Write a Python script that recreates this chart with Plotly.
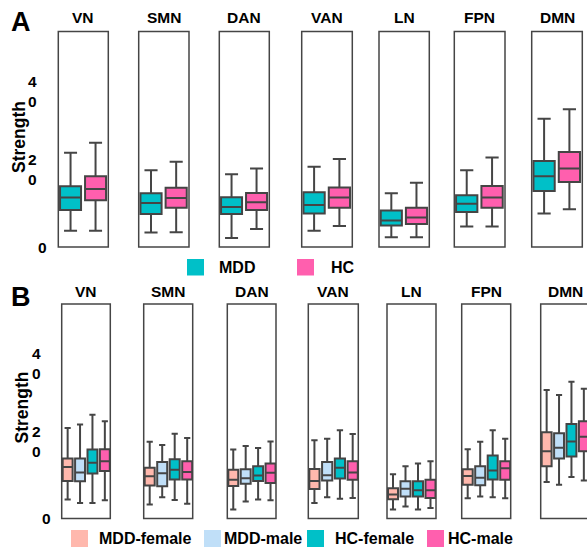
import plotly.graph_objects as go

# ---------------- data ----------------
networks = ["VN", "SMN", "DAN", "VAN", "LN", "FPN", "DMN"]

groups_a = ["MDD", "HC"]
colors_a = ["#00C0C8", "#FF5FAE"]
# per network: [upper whisker, q3, median, q1, lower whisker]
mdd_stats = [
    [24.2, 15.6, 12.7, 9.5, 4.2],
    [19.7, 13.8, 11.3, 8.5, 3.7],
    [18.7, 12.8, 10.3, 8.5, 2.3],
    [20.6, 14.1, 10.8, 8.6, 4.2],
    [13.8, 9.4, 6.8, 5.5, 2.5],
    [19.7, 13.3, 11.1, 9.0, 5.3],
    [33.0, 22.1, 18.2, 14.4, 8.6],
]
hc_stats = [
    [26.8, 18.2, 14.9, 12.0, 4.2],
    [21.9, 15.2, 12.6, 10.1, 3.8],
    [20.2, 13.9, 11.5, 9.5, 4.6],
    [22.6, 15.3, 12.7, 10.1, 5.4],
    [16.5, 10.1, 7.6, 5.9, 2.5],
    [23.0, 15.7, 12.7, 10.1, 5.3],
    [35.4, 24.4, 20.2, 16.7, 9.7],
]

groups_b = ["MDD-female", "MDD-male", "HC-female", "HC-male"]
colors_b = ["#FFB8AD", "#C0DFF8", "#00C0C8", "#FF5FAE"]
mdd_female_stats = [
    [23.4, 15.5, 13.3, 9.7, 4.9],
    [19.8, 13.1, 10.9, 8.5, 3.6],
    [17.8, 12.6, 10.0, 8.4, 2.3],
    [20.2, 12.8, 9.7, 7.6, 4.0],
    [11.4, 7.8, 6.2, 5.0, 2.3],
    [17.9, 12.7, 11.0, 8.7, 5.2],
    [33.2, 22.3, 17.4, 13.5, 9.4],
]
mdd_male_stats = [
    [24.3, 15.5, 11.9, 9.6, 4.0],
    [19.0, 14.6, 11.7, 8.3, 5.5],
    [18.7, 12.7, 10.4, 9.0, 4.4],
    [20.6, 14.6, 11.2, 9.8, 5.5],
    [13.5, 9.6, 7.7, 5.7, 3.1],
    [19.8, 13.5, 10.5, 8.6, 5.7],
    [31.9, 22.0, 18.3, 15.5, 8.7],
]
hc_female_stats = [
    [26.8, 17.8, 14.4, 11.6, 4.0],
    [21.9, 15.3, 12.6, 10.1, 4.8],
    [18.2, 13.5, 11.1, 9.7, 4.9],
    [22.8, 15.5, 13.1, 10.3, 5.1],
    [14.2, 9.6, 7.3, 5.7, 2.3],
    [22.8, 16.3, 12.4, 10.1, 5.5],
    [35.3, 24.4, 19.9, 16.0, 10.7],
]
hc_male_stats = [
    [25.1, 17.9, 14.8, 12.3, 4.7],
    [20.8, 14.8, 12.0, 10.1, 3.8],
    [19.9, 14.2, 11.8, 9.2, 4.7],
    [21.8, 14.8, 11.9, 10.0, 5.3],
    [14.8, 10.0, 7.3, 5.3, 2.7],
    [20.6, 14.8, 13.0, 10.0, 5.2],
    [33.5, 25.1, 21.1, 17.4, 9.8],
]

y_tick_vals = [0, 20, 40]
y_tick_text = ["0", "2<br>0", "4<br>0"]
y_title = "Strength"
panel_labels = ["A", "B"]

# ---------------- layout constants (pixels) ----------------
W, H = 587, 550
FONT = "Liberation Sans, Arial, sans-serif"
LINE = "#454545"
Y_RANGE = [0, 55.4]

a_top, a_bot = 31.5, 247.0
b_top, b_bot = 304.0, 518.5
a_cols = [(58.3, 108.3), (138.7, 189.0), (219.3, 269.3), (301.7, 352.3),
          (379.0, 429.3), (454.3, 505.0), (531.7, 582.3)]
b_cols = [(61.7, 110.3), (143.7, 192.7), (227.3, 276.0), (308.3, 358.3),
          (387.0, 436.0), (461.7, 510.7), (540.7, 589.3)]


def px_x(p):
    return p / W


def px_y(p):
    return 1 - p / H


fig = go.Figure()
layout = dict()
shapes = []
annotations = []


def add_panel(idx, col, top, bot, groups, colors, stats_list, ni, a_range):
    ax = "" if idx == 1 else str(idx)
    l, r = col
    r_clip = min(r, W)
    x_unit = (r - l) / (a_range[1] - a_range[0])
    rng = [a_range[0], a_range[0] + (r_clip - l) / x_unit]
    layout["xaxis" + ax] = dict(domain=[px_x(l), px_x(r_clip)], range=rng,
                               type="category", visible=False,
                               anchor="y" + ax, fixedrange=True)
    layout["yaxis" + ax] = dict(domain=[px_y(bot), px_y(top)], range=Y_RANGE,
                               visible=False, anchor="x" + ax, fixedrange=True)
    bw = 0.84 if len(groups) == 2 else 0.8
    for g, c, st in zip(groups, colors, stats_list):
        s = st[ni]
        fig.add_trace(go.Box(
            x=[g], upperfence=[s[0]], q3=[s[1]], median=[s[2]], q1=[s[3]],
            lowerfence=[s[4]], width=bw, whiskerwidth=0.62,
            fillcolor=c, line=dict(color=LINE, width=2),
            boxpoints=False, showlegend=False, name=g,
            xaxis="x" + ax, yaxis="y" + ax,
        ))
    shapes.append(dict(type="rect", xref="paper", yref="paper",
                       x0=px_x(l), x1=px_x(r), y0=px_y(bot), y1=px_y(top),
                       line=dict(color=LINE, width=1.5), layer="above"))


idx = 1
for ni, net in enumerate(networks):
    add_panel(idx, a_cols[ni], a_top, a_bot, groups_a, colors_a,
              [mdd_stats, hc_stats], ni, [-0.49, 1.51])
    annotations.append(dict(x=px_x((a_cols[ni][0] + a_cols[ni][1]) / 2),
                            y=px_y(18), xref="paper", yref="paper",
                            text=net, showarrow=False, xanchor="center",
                            yanchor="middle",
                            font=dict(size=15.5, family=FONT, color="black", weight="bold")))
    idx += 1
first_b = idx
for ni, net in enumerate(networks):
    add_panel(idx, b_cols[ni], b_top, b_bot, groups_b, colors_b,
              [mdd_female_stats, mdd_male_stats, hc_female_stats, hc_male_stats],
              ni, [-0.48, 3.44])
    cx = (b_cols[ni][0] + min(b_cols[ni][1], 591)) / 2
    if cx > W - 20:
        cx = W - 20
    annotations.append(dict(x=px_x(cx), y=px_y(291.5), xref="paper", yref="paper",
                            text=net, showarrow=False, xanchor="center",
                            yanchor="middle",
                            font=dict(size=15.5, family=FONT, color="black", weight="bold")))
    idx += 1

# y tick labels, panel letters, y titles
for yref, xr_multi, xr_single, lbl, lx, ly, tx, ty in [
    ("y", 38.5, 48.5, panel_labels[0], 21, 22.5, 18.5, 136.5),
    ("y" + str(first_b), 43, 53, panel_labels[1], 20.5, 296.5, 21.5, 408),
]:
    for v, t in zip(y_tick_vals, y_tick_text):
        annotations.append(dict(x=px_x(xr_multi if "<br>" in t else xr_single), y=v,
                                xref="paper", yref=yref, text=t, showarrow=False,
                                xanchor="right", yanchor="middle", align="right",
                                font=dict(size=15.5, family=FONT, color="black", weight="bold")))
    annotations.append(dict(x=px_x(lx), y=px_y(ly), xref="paper", yref="paper",
                            text=lbl, showarrow=False, xanchor="center", yanchor="middle",
                            font=dict(size=27, family=FONT, color="black", weight="bold")))
    annotations.append(dict(x=px_x(tx), y=px_y(ty), xref="paper", yref="paper",
                            text=y_title, showarrow=False, textangle=-90,
                            xanchor="center", yanchor="middle",
                            font=dict(size=17.5, family=FONT, color="black", weight="bold")))

# manual legends
legend_a_sw = [187, 297]
legend_a_tx = [217, 329]
legend_b_sw = [71, 204, 307, 427]
legend_b_tx = [97, 222, 333, 446]
for groups, colors, sws, txs, yt, yb in [
    (groups_a, colors_a, legend_a_sw, legend_a_tx, 259, 275.5),
    (groups_b, colors_b, legend_b_sw, legend_b_tx, 530, 547),
]:
    for g, c, sx, tx in zip(groups, colors, sws, txs):
        shapes.append(dict(type="rect", xref="paper", yref="paper",
                           x0=px_x(sx), x1=px_x(sx + 17), y0=px_y(yb), y1=px_y(yt),
                           fillcolor=c, line=dict(width=0)))
        annotations.append(dict(x=px_x(tx), y=px_y((yt + yb) / 2), xref="paper",
                                yref="paper", text=g, showarrow=False,
                                xanchor="left", yanchor="middle",
                                font=dict(size=16, family=FONT, color="black", weight="bold")))

fig.update_layout(
    width=W, height=H,
    margin=dict(l=0, r=0, t=0, b=0),
    paper_bgcolor="white", plot_bgcolor="rgba(0,0,0,0)",
    shapes=shapes, annotations=annotations,
    showlegend=False,
    **layout,
)

fig.write_html(
    "out.html",
    config={"displayModeBar": False},
    post_script="document.body.style.margin='0';document.body.style.overflow='hidden';",
)
